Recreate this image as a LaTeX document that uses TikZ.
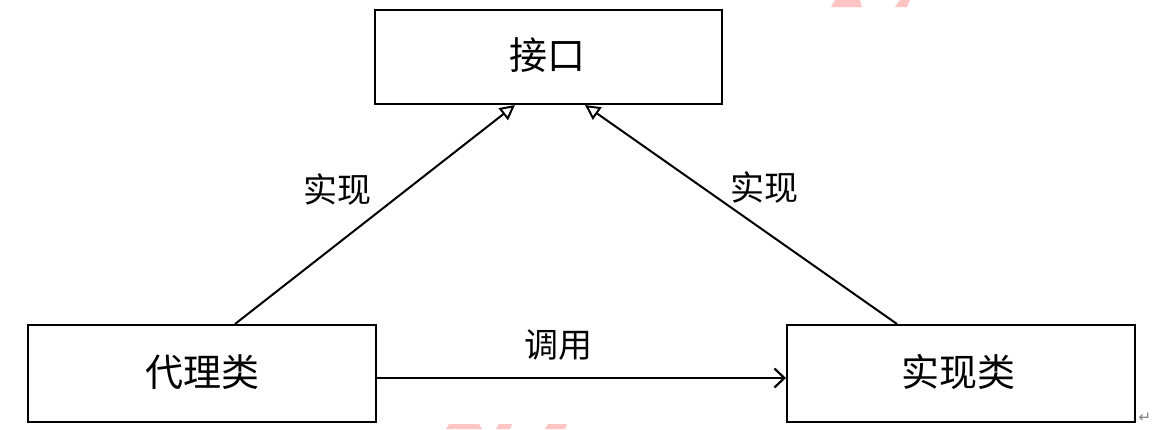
\documentclass[tikz,border=0pt]{standalone}
\usepackage{fontspec}
\newfontfamily\cjk{Noto Sans CJK SC}
\newfontfamily\dejavu{DejaVu Sans}
\usetikzlibrary{arrows.meta}
\definecolor{wm}{HTML}{FFC4C4}
\tikzset{
  box/.style={draw, line width=2pt, inner sep=0pt, font=\cjk\fontsize{38}{40}\selectfont},
  lbl/.style={inner sep=0pt, font=\cjk\fontsize{34}{36}\selectfont},
  impl/.style={line width=2pt, -{Triangle[open,length=15pt,width=15pt,line width=2pt]}},
  call/.style={line width=2pt, -{Straight Barb[length=10pt,width=19pt,line width=2.2pt]}}
}
\begin{document}
\begin{tikzpicture}[x=1pt,y=-1pt]
\useasboundingbox[fill=white] (0,0) rectangle (1162,429);
% watermark fragments
\fill[wm] (835,0) -- (860,0) -- (862,7) -- (831,7) -- cycle;
\fill[wm] (900,0) -- (910,0) -- (907,7) -- (895,7) -- cycle;
\fill[wm] (449,424) -- (479,424) -- (482,429) -- (446,429) -- cycle;
\fill[wm] (499,424) -- (512,424) -- (510,429) -- (496,429) -- cycle;
\fill[wm] (548,424) -- (567,424) -- (565,429) -- (545,429) -- cycle;
% boxes
\node[box, minimum width=347pt, minimum height=94pt] (iface) at (548.5,57) {};
\node[box, minimum width=348pt, minimum height=97pt] (proxy) at (202,373.5) {};
\node[box, minimum width=348pt, minimum height=97pt] (real) at (961,373.5) {};
\node[box, draw=none] (tif) at (547,55) {接口};
\node[box, draw=none] (tpx) at (202,372) {代理类};
\node[box, draw=none] (trl) at (958,372) {实现类};
% connectors
\draw[impl] ([xshift=33pt]proxy.north) -- ([xshift=-33.5pt]iface.south);
\draw[impl] ([xshift=-64pt]real.north) -- ([xshift=36.5pt]iface.south);
\draw[call] ([yshift=-4.5pt]proxy.east) -- ([yshift=-4.5pt]real.west);
% labels
\node[lbl] (l1) at (337,190) {实现};
\node[lbl] (l2) at (764,188) {实现};
\node[lbl] (l3) at (558,345) {调用};
\node[inner sep=0pt, text=gray, font=\dejavu\fontsize{15}{16}\selectfont] (pm) at (1145,418) {↵};
\end{tikzpicture}
\end{document}
